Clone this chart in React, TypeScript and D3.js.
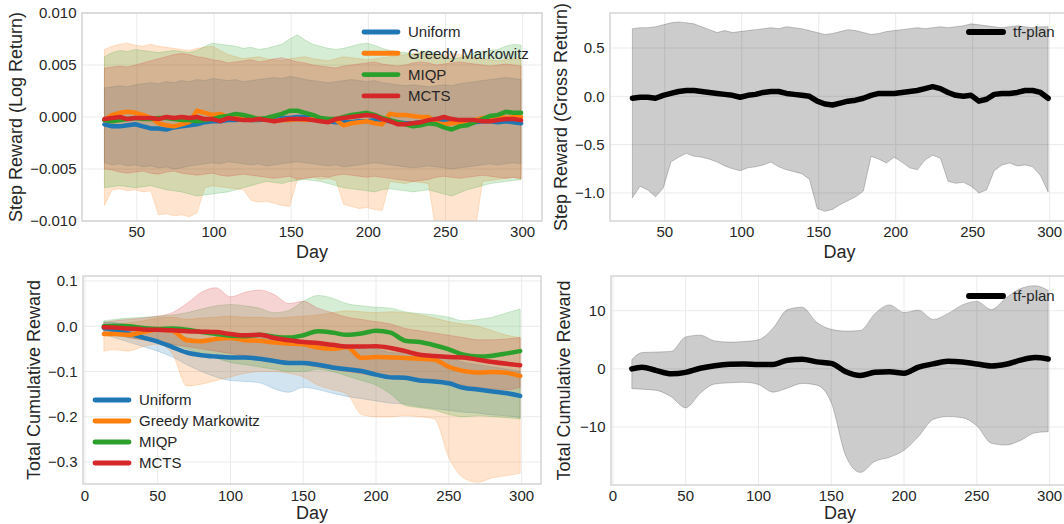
import React from 'react'
import * as d3 from 'd3'

// ---- data -------------------------------------------------------------

const stepDays = [29, 34, 39, 44, 49, 54, 59, 64, 69, 74, 79, 84, 89, 94, 99, 104, 109, 114, 119, 124,
  129, 134, 139, 144, 149, 154, 159, 164, 169, 174, 179, 184, 189, 194, 199, 204, 209, 214, 219, 224,
  229, 234, 239, 244, 249, 254, 259, 264, 269, 274, 279, 284, 289, 294, 299]

const cumDays = [13, 20, 30, 40, 50, 60, 70, 80, 90, 100, 110, 120, 130, 140, 150, 160, 170, 180, 190, 200,
  210, 220, 230, 240, 250, 260, 270, 280, 290, 299]

const methods = ['Uniform', 'Greedy Markowitz', 'MIQP', 'MCTS']
const methodColors = ['#1f77b4', '#ff7f0e', '#2ca02c', '#d62728']

// step reward (log return), mean and band
const uniformStep = [-0.0007, -0.0009, -0.0009, -0.0008, -0.0007, -0.0009, -0.0011, -0.0011, -0.0012, -0.0010,
  -0.0009, -0.0008, -0.0007, -0.0005, -0.0004, -0.0004, -0.0003, -0.0003, -0.0002, -0.0003,
  -0.0003, -0.0002, -0.0002, -0.0001, -0.0001, 0.0000, 0.0000, -0.0001, -0.0003, -0.0004,
  -0.0005, -0.0005, -0.0005, -0.0004, -0.0004, -0.0003, -0.0003, -0.0004, -0.0005, -0.0006,
  -0.0006, -0.0005, -0.0005, -0.0004, -0.0003, -0.0003, -0.0004, -0.0005, -0.0005, -0.0004,
  -0.0004, -0.0005, -0.0004, -0.0005, -0.0006]
const uniformStepHi = [0.0028, 0.0029, 0.0030, 0.0029, 0.0031, 0.0032, 0.0033, 0.0032, 0.0034, 0.0033,
  0.0035, 0.0034, 0.0036, 0.0035, 0.0037, 0.0036, 0.0035, 0.0036, 0.0034, 0.0035,
  0.0036, 0.0037, 0.0038, 0.0037, 0.0039, 0.0038, 0.0036, 0.0035, 0.0034, 0.0033,
  0.0034, 0.0035, 0.0036, 0.0035, 0.0034, 0.0035, 0.0033, 0.0032, 0.0031, 0.0030,
  0.0031, 0.0030, 0.0029, 0.0030, 0.0031, 0.0030, 0.0032, 0.0033, 0.0034, 0.0035,
  0.0036, 0.0037, 0.0038, 0.0037, 0.0036]
const uniformStepLo = [-0.0044, -0.0046, -0.0045, -0.0047, -0.0046, -0.0048, -0.0047, -0.0049, -0.0048, -0.0050,
  -0.0049, -0.0047, -0.0046, -0.0045, -0.0044, -0.0045, -0.0043, -0.0044, -0.0045, -0.0046,
  -0.0045, -0.0047, -0.0046, -0.0045, -0.0044, -0.0043, -0.0044, -0.0045, -0.0046, -0.0047,
  -0.0046, -0.0048, -0.0047, -0.0046, -0.0045, -0.0044, -0.0045, -0.0046, -0.0047, -0.0048,
  -0.0049, -0.0048, -0.0047, -0.0048, -0.0049, -0.0050, -0.0049, -0.0048, -0.0047, -0.0046,
  -0.0045, -0.0046, -0.0045, -0.0044, -0.0045]

const greedyStep = [-0.0003, 0.0002, 0.0004, 0.0005, 0.0004, 0.0002, -0.0001, -0.0006, -0.0008, -0.0009,
  -0.0007, -0.0005, 0.0006, 0.0004, 0.0002, 0.0003, 0.0000, -0.0001, -0.0001, -0.0003,
  -0.0002, -0.0002, -0.0004, -0.0003, -0.0003, -0.0002, -0.0003, -0.0002, -0.0003, -0.0002,
  -0.0003, -0.0008, -0.0006, -0.0005, -0.0004, -0.0006, -0.0007, 0.0003, 0.0002, 0.0002,
  0.0001, 0.0000, 0.0000, -0.0006, -0.0007, -0.0006, -0.0005, -0.0004, -0.0003, -0.0001,
  0.0000, 0.0001, -0.0001, 0.0000, 0.0000]
const greedyStepHi = [0.0065, 0.0068, 0.0070, 0.0071, 0.0069, 0.0068, 0.0070, 0.0068, 0.0067, 0.0066,
  0.0065, 0.0064, 0.0066, 0.0067, 0.0068, 0.0064, 0.0060, 0.0058, 0.0056, 0.0057,
  0.0058, 0.0056, 0.0055, 0.0054, 0.0056, 0.0057, 0.0058, 0.0056, 0.0055, 0.0054,
  0.0056, 0.0058, 0.0057, 0.0056, 0.0055, 0.0056, 0.0057, 0.0058, 0.0059, 0.0060,
  0.0061, 0.0062, 0.0060, 0.0059, 0.0060, 0.0061, 0.0060, 0.0058, 0.0057, 0.0056,
  0.0055, 0.0054, 0.0055, 0.0056, 0.0055]
const greedyStepLo = [-0.0085, -0.0070, -0.0069, -0.0071, -0.0070, -0.0072, -0.0071, -0.0094, -0.0093, -0.0095,
  -0.0094, -0.0096, -0.0092, -0.0068, -0.0066, -0.0067, -0.0068, -0.0069, -0.0070, -0.0080,
  -0.0082, -0.0081, -0.0083, -0.0085, -0.0086, -0.0060, -0.0059, -0.0058, -0.0060, -0.0059,
  -0.0061, -0.0084, -0.0086, -0.0088, -0.0087, -0.0089, -0.0090, -0.0062, -0.0063, -0.0064,
  -0.0062, -0.0063, -0.0064, -0.0112, -0.0115, -0.0113, -0.0116, -0.0114, -0.0112, -0.0062,
  -0.0061, -0.0060, -0.0059, -0.0058, -0.0060]

const miqpStep = [-0.0003, -0.0004, -0.0003, -0.0002, -0.0001, -0.0002, -0.0002, -0.0001, -0.0001, -0.0002,
  -0.0003, -0.0003, -0.0004, -0.0003, -0.0002, 0.0000, 0.0001, 0.0003, 0.0002, 0.0000,
  -0.0002, -0.0001, 0.0001, 0.0003, 0.0006, 0.0006, 0.0004, 0.0002, -0.0001, -0.0002,
  -0.0002, 0.0000, 0.0002, 0.0003, 0.0004, 0.0002, -0.0001, -0.0003, -0.0005, -0.0007,
  -0.0009, -0.0008, -0.0006, -0.0007, -0.0010, -0.0012, -0.0009, -0.0008, -0.0005, -0.0002,
  0.0001, 0.0002, 0.0005, 0.0004, 0.0004]
const miqpStepHi = [0.0058, 0.0062, 0.0064, 0.0063, 0.0065, 0.0064, 0.0063, 0.0062, 0.0063, 0.0064,
  0.0063, 0.0062, 0.0064, 0.0068, 0.0071, 0.0070, 0.0069, 0.0068, 0.0066, 0.0067,
  0.0065, 0.0066, 0.0068, 0.0070, 0.0075, 0.0079, 0.0074, 0.0070, 0.0068, 0.0066,
  0.0065, 0.0066, 0.0068, 0.0070, 0.0071, 0.0069, 0.0066, 0.0064, 0.0063, 0.0062,
  0.0060, 0.0062, 0.0064, 0.0061, 0.0058, 0.0056, 0.0057, 0.0059, 0.0062, 0.0063,
  0.0064, 0.0065, 0.0068, 0.0070, 0.0069]
const miqpStepLo = [-0.0068, -0.0067, -0.0066, -0.0067, -0.0068, -0.0067, -0.0066, -0.0068, -0.0070, -0.0071,
  -0.0072, -0.0074, -0.0076, -0.0075, -0.0074, -0.0073, -0.0072, -0.0070, -0.0068, -0.0066,
  -0.0064, -0.0062, -0.0063, -0.0064, -0.0062, -0.0061, -0.0060, -0.0061, -0.0062, -0.0064,
  -0.0066, -0.0068, -0.0069, -0.0070, -0.0071, -0.0072, -0.0070, -0.0069, -0.0070, -0.0071,
  -0.0072, -0.0071, -0.0070, -0.0072, -0.0074, -0.0076, -0.0073, -0.0070, -0.0068, -0.0066,
  -0.0064, -0.0063, -0.0062, -0.0061, -0.0060]

const mctsStep = [-0.0002, -0.0001, 0.0000, -0.0002, -0.0001, -0.0001, -0.0001, -0.0002, 0.0000, -0.0001,
  0.0000, -0.0001, 0.0000, -0.0002, -0.0002, -0.0004, -0.0001, -0.0002, -0.0003, -0.0003,
  -0.0002, -0.0003, -0.0004, -0.0003, -0.0002, -0.0002, -0.0002, -0.0003, -0.0004, -0.0005,
  -0.0002, -0.0001, 0.0000, 0.0001, 0.0002, 0.0001, -0.0002, -0.0004, -0.0007, -0.0007,
  -0.0006, -0.0005, -0.0003, -0.0002, 0.0000, -0.0002, -0.0003, -0.0003, -0.0003, -0.0004,
  -0.0004, -0.0003, -0.0002, -0.0002, -0.0003]
const mctsStepHi = [0.0047, 0.0048, 0.0049, 0.0048, 0.0050, 0.0052, 0.0054, 0.0056, 0.0058, 0.0060,
  0.0061, 0.0060, 0.0058, 0.0057, 0.0055, 0.0054, 0.0052, 0.0053, 0.0054, 0.0055,
  0.0053, 0.0054, 0.0056, 0.0057, 0.0055, 0.0053, 0.0052, 0.0050, 0.0049, 0.0048,
  0.0047, 0.0049, 0.0050, 0.0051, 0.0052, 0.0053, 0.0051, 0.0050, 0.0049, 0.0050,
  0.0052, 0.0053, 0.0052, 0.0050, 0.0051, 0.0052, 0.0053, 0.0052, 0.0051, 0.0050,
  0.0049, 0.0050, 0.0051, 0.0050, 0.0049]
const mctsStepLo = [-0.0050, -0.0051, -0.0053, -0.0054, -0.0053, -0.0052, -0.0054, -0.0055, -0.0053, -0.0052,
  -0.0054, -0.0055, -0.0056, -0.0055, -0.0054, -0.0056, -0.0057, -0.0056, -0.0055, -0.0056,
  -0.0057, -0.0058, -0.0059, -0.0058, -0.0057, -0.0060, -0.0059, -0.0058, -0.0057, -0.0058,
  -0.0056, -0.0055, -0.0056, -0.0057, -0.0058, -0.0057, -0.0058, -0.0059, -0.0060, -0.0061,
  -0.0062, -0.0061, -0.0060, -0.0058, -0.0057, -0.0058, -0.0059, -0.0058, -0.0057, -0.0056,
  -0.0057, -0.0058, -0.0059, -0.0058, -0.0059]

// tf-plan step reward (gross return)
const tfStep = [-0.02, -0.01, -0.01, -0.02, 0.01, 0.03, 0.05, 0.06, 0.06, 0.05,
  0.04, 0.03, 0.02, 0.01, -0.01, 0.01, 0.02, 0.04, 0.05, 0.05,
  0.03, 0.02, 0.01, 0.00, -0.05, -0.08, -0.09, -0.07, -0.05, -0.04,
  -0.02, 0.01, 0.03, 0.03, 0.03, 0.04, 0.05, 0.06, 0.08, 0.10,
  0.08, 0.04, 0.01, 0.00, 0.01, -0.05, -0.03, 0.02, 0.03, 0.03,
  0.04, 0.06, 0.06, 0.04, -0.02]
const tfStepHi = [0.70, 0.71, 0.71, 0.72, 0.74, 0.76, 0.77, 0.76, 0.75, 0.72,
  0.69, 0.66, 0.68, 0.66, 0.67, 0.68, 0.69, 0.70, 0.71, 0.70,
  0.72, 0.71, 0.70, 0.68, 0.66, 0.64, 0.65, 0.67, 0.69, 0.68,
  0.66, 0.64, 0.65, 0.67, 0.68, 0.69, 0.70, 0.71, 0.70, 0.71,
  0.72, 0.71, 0.72, 0.73, 0.75, 0.74, 0.73, 0.72, 0.71, 0.72,
  0.73, 0.72, 0.71, 0.72, 0.72]
const tfStepLo = [-1.05, -0.93, -0.97, -1.04, -0.95, -0.68, -0.63, -0.59, -0.62, -0.63,
  -0.65, -0.68, -0.72, -0.75, -0.77, -0.74, -0.73, -0.71, -0.68, -0.73,
  -0.76, -0.78, -0.80, -0.86, -1.16, -1.19, -1.17, -1.12, -1.08, -1.04,
  -0.98, -0.62, -0.65, -0.69, -0.63, -0.68, -0.74, -0.76, -0.66, -0.61,
  -0.64, -0.88, -0.90, -0.89, -0.93, -1.00, -0.97, -0.77, -0.71, -0.69,
  -0.72, -0.71, -0.73, -0.82, -0.99]

// total cumulative reward
const uniformCum = [-0.004, -0.008, -0.016, -0.025, -0.034, -0.046, -0.058, -0.064, -0.067, -0.069,
  -0.069, -0.072, -0.077, -0.081, -0.081, -0.085, -0.091, -0.095, -0.099, -0.107,
  -0.113, -0.114, -0.120, -0.122, -0.126, -0.136, -0.140, -0.144, -0.148, -0.154]
const uniformCumHi = [0.010, 0.008, 0.004, 0.000, -0.005, -0.015, -0.025, -0.030, -0.028, -0.025,
  -0.022, -0.025, -0.030, -0.030, -0.032, -0.035, -0.040, -0.042, -0.045, -0.050,
  -0.058, -0.060, -0.065, -0.068, -0.070, -0.080, -0.085, -0.090, -0.095, -0.100]
const uniformCumLo = [-0.018, -0.025, -0.035, -0.045, -0.055, -0.068, -0.085, -0.100, -0.112, -0.120,
  -0.122, -0.125, -0.138, -0.146, -0.135, -0.140, -0.148, -0.155, -0.160, -0.165,
  -0.170, -0.172, -0.178, -0.182, -0.186, -0.190, -0.192, -0.196, -0.198, -0.202]

const greedyCum = [-0.017, -0.017, -0.019, -0.013, -0.008, -0.010, -0.031, -0.033, -0.028, -0.026,
  -0.031, -0.032, -0.036, -0.038, -0.040, -0.047, -0.050, -0.046, -0.070, -0.068,
  -0.069, -0.070, -0.072, -0.074, -0.090, -0.099, -0.102, -0.101, -0.103, -0.110]
const greedyCumHi = [-0.002, 0.002, 0.008, 0.012, 0.018, 0.020, 0.015, 0.018, 0.020, 0.022,
  0.020, 0.020, 0.018, 0.020, 0.022, 0.025, 0.030, 0.034, 0.032, 0.030,
  0.032, 0.030, 0.025, 0.018, 0.010, 0.005, 0.000, -0.010, -0.020, -0.025]
const greedyCumLo = [-0.055, -0.052, -0.055, -0.045, -0.040, -0.060, -0.132, -0.128, -0.120, -0.112,
  -0.104, -0.100, -0.100, -0.104, -0.112, -0.130, -0.140, -0.150, -0.195, -0.200,
  -0.200, -0.198, -0.200, -0.205, -0.290, -0.335, -0.345, -0.335, -0.330, -0.325]

const miqpCum = [0.000, 0.001, 0.000, -0.004, -0.006, -0.005, -0.008, -0.013, -0.017, -0.021,
  -0.022, -0.019, -0.023, -0.025, -0.020, -0.011, -0.014, -0.019, -0.016, -0.010,
  -0.014, -0.032, -0.035, -0.042, -0.051, -0.063, -0.067, -0.065, -0.060, -0.055]
const miqpCumHi = [0.012, 0.015, 0.018, 0.020, 0.022, 0.025, 0.030, 0.038, 0.045, 0.048,
  0.045, 0.040, 0.030, 0.035, 0.055, 0.068, 0.062, 0.050, 0.045, 0.042,
  0.040, 0.032, 0.028, 0.025, 0.020, 0.012, 0.015, 0.020, 0.030, 0.038]
const miqpCumLo = [-0.015, -0.020, -0.025, -0.030, -0.035, -0.040, -0.050, -0.060, -0.070, -0.080,
  -0.085, -0.090, -0.095, -0.100, -0.100, -0.095, -0.100, -0.110, -0.120, -0.130,
  -0.150, -0.175, -0.180, -0.185, -0.195, -0.200, -0.198, -0.200, -0.202, -0.205]

const mctsCum = [-0.002, -0.003, -0.005, -0.007, -0.008, -0.009, -0.011, -0.012, -0.013, -0.017,
  -0.020, -0.019, -0.026, -0.031, -0.035, -0.037, -0.041, -0.045, -0.045, -0.044,
  -0.048, -0.055, -0.063, -0.066, -0.068, -0.069, -0.074, -0.079, -0.083, -0.086]
const mctsCumHi = [0.008, 0.012, 0.015, 0.018, 0.022, 0.030, 0.050, 0.075, 0.085, 0.065,
  0.075, 0.080, 0.070, 0.050, 0.055, 0.040, 0.030, 0.020, 0.015, 0.010,
  0.005, -0.005, -0.010, -0.015, -0.020, -0.025, -0.030, -0.030, -0.028, -0.025]
const mctsCumLo = [-0.012, -0.018, -0.025, -0.030, -0.035, -0.040, -0.045, -0.050, -0.055, -0.060,
  -0.065, -0.070, -0.075, -0.080, -0.085, -0.090, -0.095, -0.100, -0.105, -0.110,
  -0.115, -0.118, -0.120, -0.125, -0.128, -0.130, -0.135, -0.138, -0.140, -0.135]

// tf-plan total cumulative reward
const tfCum = [0.0, 0.3, -0.3, -0.85, -0.6, 0.1, 0.55, 0.8, 0.85, 0.75,
  0.75, 1.5, 1.65, 1.2, 0.95, -0.5, -1.15, -0.6, -0.5, -0.75,
  0.3, 0.85, 1.3, 1.2, 0.85, 0.5, 0.8, 1.5, 1.95, 1.7]
const tfCumHi = [1.6, 2.8, 2.9, 3.0, 5.5, 5.8, 4.8, 4.6, 4.7, 5.0,
  7.0, 10.2, 10.6, 8.0, 6.8, 6.5, 6.6, 9.5, 11.0, 9.7,
  10.1, 8.5, 9.5, 11.0, 11.6, 10.2, 12.2, 13.8, 14.3, 13.5]
const tfCumLo = [-3.4, -3.5, -3.7, -4.8, -6.7, -4.2, -2.6, -2.4, -2.3, -2.7,
  -4.0, -3.3, -2.5, -2.8, -5.8, -15.0, -17.8, -15.9, -15.2, -14.0,
  -11.6, -8.7, -8.2, -8.4, -9.8, -12.8, -13.1, -12.3, -11.0, -10.8]

const stepTicksX = [50, 100, 150, 200, 250, 300]
const cumTicksX = [0, 50, 100, 150, 200, 250, 300]
const logTicksY = [-0.01, -0.005, 0, 0.005, 0.01]
const grossTicksY = [-1.0, -0.5, 0.0, 0.5]
const cumTicksY = [-0.3, -0.2, -0.1, 0.0, 0.1]
const tfCumTicksY = [-10, 0, 10]

// ---- drawing ----------------------------------------------------------

const FONT = '"Liberation Sans", Arial, Helvetica, sans-serif'
const TEXT = '#262626'
const GRID = '#ebebeb'
const EDGE = '#cccccc'

type Band = { name: string; color: string; days: number[]; mean: number[]; lo: number[]; hi: number[] }

type PanelProps = {
  id: string
  box: { l: number; t: number; r: number; b: number }
  xDomain: [number, number]
  yDomain: [number, number]
  xTicks: number[]
  yTicks: number[]
  yFormat: (v: number) => string
  ylabel: string
  ylabelX: number
  tickY: number
  dayY: number
  bands: Band[]
  lineWidth: number
  smooth: boolean
  legend: { x: number; y: number; dy: number }
}

function Panel(p: PanelProps) {
  const { box } = p
  const x = d3.scaleLinear().domain(p.xDomain).range([box.l, box.r])
  const y = d3.scaleLinear().domain(p.yDomain).range([box.b, box.t])
  const curve = p.smooth ? d3.curveMonotoneX : d3.curveLinear

  const area = (s: Band) =>
    d3.area<number>()
      .x((_, i) => x(s.days[i]))
      .y0((_, i) => y(s.lo[i]))
      .y1((_, i) => y(s.hi[i]))
      .curve(curve)(s.mean) || ''
  const line = (s: Band) =>
    d3.line<number>()
      .x((_, i) => x(s.days[i]))
      .y(d => y(d))
      .curve(curve)(s.mean) || ''

  const cy = (box.t + box.b) / 2
  const clip = `clip-${p.id}`

  return (
    <g>
      <defs>
        <clipPath id={clip}>
          <rect x={box.l} y={box.t} width={box.r - box.l} height={box.b - box.t} />
        </clipPath>
      </defs>
      {p.xTicks.map(t => (
        <line key={'gx' + t} x1={x(t)} x2={x(t)} y1={box.t} y2={box.b} stroke={GRID} strokeWidth={1} />
      ))}
      {p.yTicks.map(t => (
        <line key={'gy' + t} x1={box.l} x2={box.r} y1={y(t)} y2={y(t)} stroke={GRID} strokeWidth={1} />
      ))}
      <g clipPath={`url(#${clip})`}>
        {p.bands.map(s => (
          <path key={'a' + s.name} d={area(s)} fill={s.color} fillOpacity={0.2}
            stroke={s.color} strokeOpacity={0.2} strokeWidth={1} />
        ))}
        {p.bands.map(s => (
          <path key={'l' + s.name} d={line(s)} fill="none" stroke={s.color} strokeWidth={p.lineWidth}
            strokeLinecap="round" strokeLinejoin="round" />
        ))}
      </g>
      <rect x={box.l} y={box.t} width={box.r - box.l} height={box.b - box.t} fill="none"
        stroke={EDGE} strokeWidth={1.25} />
      {p.xTicks.map(t => (
        <text key={'tx' + t} x={x(t)} y={p.tickY} textAnchor="middle" fontSize={15} fill={TEXT}>
          {String(t)}
        </text>
      ))}
      {p.yTicks.map(t => (
        <text key={'ty' + t} x={box.l - 5.5} y={y(t)} dy="0.36em" textAnchor="end" fontSize={15} fill={TEXT}>
          {p.yFormat(t)}
        </text>
      ))}
      <text x={(box.l + box.r) / 2} y={p.dayY} textAnchor="middle" fontSize={18} fill={TEXT}>Day</text>
      <text transform={`translate(${p.ylabelX},${cy}) rotate(-90)`} textAnchor="middle" fontSize={18} fill={TEXT}>
        {p.ylabel}
      </text>
      {p.bands.map((s, i) => {
        const ly = p.legend.y + i * p.legend.dy
        return (
          <g key={'lg' + s.name}>
            <line x1={p.legend.x} x2={p.legend.x + 34} y1={ly} y2={ly} stroke={s.color}
              strokeWidth={p.lineWidth + 0.4} strokeLinecap="round" />
            <text x={p.legend.x + 44} y={ly} dy="0.36em" fontSize={15} fill={TEXT}>{s.name}</text>
          </g>
        )
      })}
    </g>
  )
}

export default function App() {
  const stepMeans = [uniformStep, greedyStep, miqpStep, mctsStep]
  const stepHis = [uniformStepHi, greedyStepHi, miqpStepHi, mctsStepHi]
  const stepLos = [uniformStepLo, greedyStepLo, miqpStepLo, mctsStepLo]
  const cumMeans = [uniformCum, greedyCum, miqpCum, mctsCum]
  const cumHis = [uniformCumHi, greedyCumHi, miqpCumHi, mctsCumHi]
  const cumLos = [uniformCumLo, greedyCumLo, miqpCumLo, mctsCumLo]

  const stepBands: Band[] = methods.map((name, i) => ({
    name, color: methodColors[i], days: stepDays, mean: stepMeans[i], lo: stepLos[i], hi: stepHis[i]
  }))
  const cumBands: Band[] = methods.map((name, i) => ({
    name, color: methodColors[i], days: cumDays, mean: cumMeans[i], lo: cumLos[i], hi: cumHis[i]
  }))
  const tfStepBand: Band[] = [{ name: 'tf-plan', color: '#000000', days: stepDays, mean: tfStep, lo: tfStepLo, hi: tfStepHi }]
  const tfCumBand: Band[] = [{ name: 'tf-plan', color: '#000000', days: cumDays, mean: tfCum, lo: tfCumLo, hi: tfCumHi }]

  const f3 = d3.format('.3f')
  const f1 = d3.format('.1f')
  const f0 = d3.format('d')

  return (
    <svg width={1064} height={524} style={{ position: 'absolute', left: 0, top: 0, background: '#fff' }}
      fontFamily={FONT}>
      <rect width={1064} height={524} fill="#fff" />
      <Panel id="tl" box={{ l: 82, t: 13, r: 542, b: 221 }} xDomain={[14.45, 312.55]} yDomain={[-0.01, 0.01]}
        xTicks={stepTicksX} yTicks={logTicksY} yFormat={f3} ylabel="Step Reward (Log Return)" ylabelX={22}
        tickY={237} dayY={258} bands={stepBands} lineWidth={4.5} smooth={false}
        legend={{ x: 364, y: 32, dy: 21.3 }} />
      <Panel id="tr" box={{ l: 610, t: 13, r: 1069, b: 221 }} xDomain={[14.45, 312.55]} yDomain={[-1.29, 0.862]}
        xTicks={stepTicksX} yTicks={grossTicksY} yFormat={f1} ylabel="Step Reward (Gross Return)" ylabelX={567}
        tickY={237} dayY={258} bands={tfStepBand} lineWidth={5.5} smooth={false}
        legend={{ x: 969, y: 32, dy: 21.3 }} />
      <Panel id="bl" box={{ l: 83, t: 276, r: 541, b: 484 }} xDomain={[-1.3, 313.3]} yDomain={[-0.3486, 0.111]}
        xTicks={cumTicksX} yTicks={cumTicksY} yFormat={f1} ylabel="Total Cumulative Reward" ylabelX={40}
        tickY={501} dayY={519} bands={cumBands} lineWidth={4.5} smooth={true}
        legend={{ x: 95, y: 400, dy: 21 }} />
      <Panel id="br" box={{ l: 611, t: 276, r: 1069, b: 485 }} xDomain={[-1.3, 313.3]} yDomain={[-19.97, 15.97]}
        xTicks={cumTicksX} yTicks={tfCumTicksY} yFormat={f0} ylabel="Total Cumulative Reward" ylabelX={570}
        tickY={501} dayY={519} bands={tfCumBand} lineWidth={5.5} smooth={true}
        legend={{ x: 969, y: 296, dy: 21 }} />
    </svg>
  )
}
